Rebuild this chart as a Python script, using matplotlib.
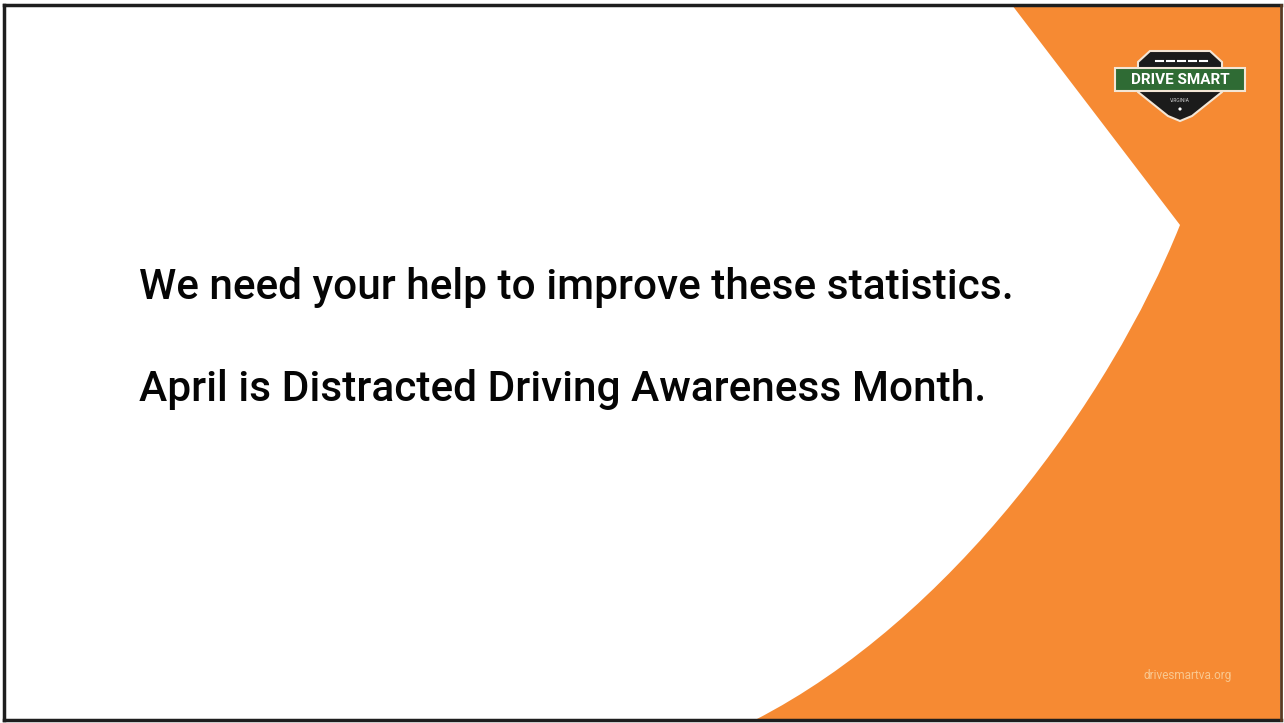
import numpy as np
import matplotlib
matplotlib.use("Agg")
import matplotlib.pyplot as plt
from matplotlib.path import Path
from matplotlib.patches import PathPatch, Polygon, Rectangle, Circle

# Slide text
lines = ["We need your help to improve these statistics.",
         "April is Distracted Driving Awareness Month."]
line_y = [299, 401]
logo_title = "DRIVE SMART"
logo_sub = "VIRGINIA"
footer = "drivesmartva.org"

# Orange panel outline (pixel coords): straight edge then a cubic curve
panel_top = (1012, 5)
panel_corner = (1180, 225)
panel_ctrl = [(1110, 400), (950, 620)]
panel_bottom = (755, 720)

orange = "#F68A33"

fig = plt.figure(figsize=(12.84, 7.23), dpi=100)
ax = fig.add_axes([0, 0, 1, 1])
ax.set_xlim(0, 1284)
ax.set_ylim(723, 0)
ax.axis("off")
fig.patch.set_facecolor("white")

# orange shape
verts = [panel_top, panel_corner, panel_ctrl[0], panel_ctrl[1], panel_bottom,
         (1280, 720), (1280, 5), panel_top]
codes = [Path.MOVETO, Path.LINETO, Path.CURVE4, Path.CURVE4, Path.CURVE4,
         Path.LINETO, Path.LINETO, Path.CLOSEPOLY]
ax.add_patch(PathPatch(Path(verts, codes), facecolor=orange, edgecolor="none"))

# frame
frame_col = "#1e1e1e"
ax.plot([4, 4], [5, 720], color=frame_col, lw=2.5)
ax.plot([4, 1281], [5, 5], color=frame_col, lw=2.5)
ax.plot([4, 1281], [720, 720], color=frame_col, lw=2.5)
ax.plot([1281, 1281], [5, 720], color="#5a3a22", lw=2)

# main text
for txt, y in zip(lines, line_y):
    ax.text(139, y, txt, fontsize=30.5, family="Roboto", weight="medium",
            color="#050505", ha="left", va="baseline")

# logo
cx = 1180
badge = [(1150, 51), (1210, 51), (1222, 62), (1222, 92), (1192, 116),
         (1180, 121), (1168, 116), (1138, 92), (1138, 62)]
ax.add_patch(Polygon(badge, closed=True, facecolor="#1b1b1b",
                     edgecolor="#f3e6d6", lw=1.5))
ax.add_patch(Rectangle((1115, 68), 130, 23, facecolor="#2f6b34",
                       edgecolor="#f3e6d6", lw=1.5))
for dx in np.arange(1156, 1206, 11):
    ax.plot([dx, dx + 7], [61, 61], color="white", lw=1.5)
ax.text(cx, 80, logo_title, fontsize=11, family="Roboto", weight="bold",
        color="white", ha="center", va="center")
ax.text(cx, 100, logo_sub, fontsize=3.5, family="Roboto", color="#cccccc",
        ha="center", va="center")
ax.add_patch(Circle((cx, 109), 1.6, facecolor="white", edgecolor="none"))

# footer
ax.text(1188, 675, footer, fontsize=8.5, family="Roboto", color="#f9c890",
        ha="center", va="center")

fig.savefig("out.png", dpi=100)
